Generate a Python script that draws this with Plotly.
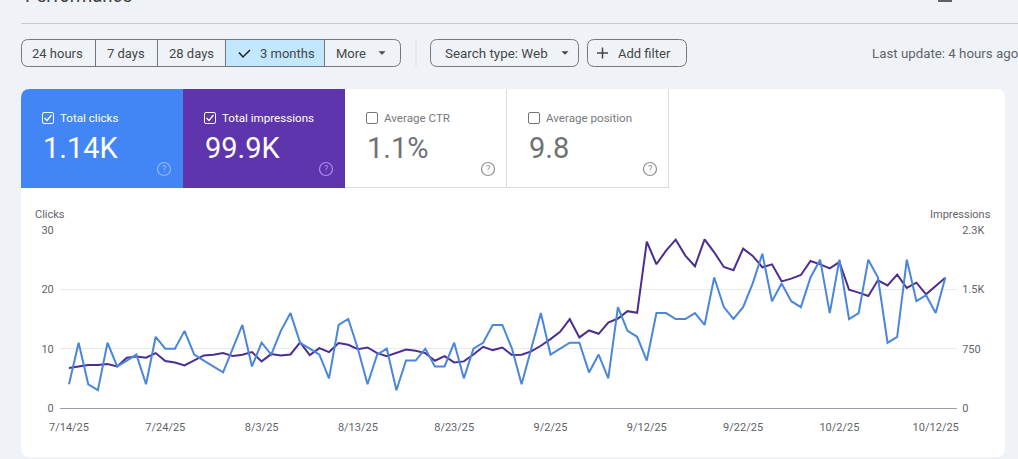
import pandas as pd
import plotly.graph_objects as go

W = 1018
H = 459

# daily values, 7/14/25 onwards
clicks = [4, 11, 4, 3, 11, 7, 8, 9, 4, 12, 10, 10, 13, 9, 8, 7, 6, 10, 14, 7, 11, 9, 13, 16,
          11, 10, 9, 5, 14, 15, 10, 4, 9, 10, 3, 8, 8, 10, 7, 7, 11, 5, 10, 11, 14, 14, 10, 4,
          10, 16, 9, 10, 11, 11, 6, 9, 5, 17, 13, 12, 8, 16, 16, 15, 15, 16, 14, 22, 17, 15, 17, 21,
          26, 18, 21, 18, 17, 22, 25, 16, 25, 15, 16, 25, 22, 11, 12, 25, 18, 19, 16, 22]
impressions = [505, 526, 543, 543, 555, 526, 635, 652, 635, 694, 593, 576, 538, 601, 665, 673, 694, 656, 673, 707,
               589, 681, 665, 677, 829, 669, 757, 707, 820, 799, 744, 765, 694, 656, 702, 740, 723, 694, 597, 656,
               576, 589, 677, 774, 732, 765, 669, 673, 715, 787, 871, 963, 1123, 892, 980, 938, 1081, 1131, 1224, 1203,
               2103, 1817, 1989, 2128, 1926, 1792, 2132, 1968, 1783, 1741, 2015, 1922, 1779, 1816, 1601, 1635, 1681, 1858,
               1816, 1765, 1845, 1496, 1458, 1416, 1614, 1550, 1685, 1517, 1584, 1437, 1542, 1647]
dates = pd.date_range("2025-07-14", periods=len(clicks), freq="D")

x_tick_dates = pd.date_range("2025-07-14", "2025-10-12", freq="10D")
x_tick_labels = ["7/14/25", "7/24/25", "8/3/25", "8/13/25", "8/23/25", "9/2/25", "9/12/25", "9/22/25", "10/2/25", "10/12/25"]
clicks_ticks = [0, 10, 20, 30]
impr_ticks = [0, 750, 1500, 2250]
impr_tick_labels = ["0", "750", "1.5K", "2.3K"]

range_buttons = [("24 hours", 21, 95), ("7 days", 95, 157), ("28 days", 157, 225), ("3 months", 225, 324), ("More", 324, 400)]

BG = "#eff3f8"
GREY = "#5f6368"
DARK = "#444746"
FONT = "Roboto"


def px(x):
    return x / W


def py(y):
    return 1 - y / H


def rrect(x0, y0, x1, y1, r=(0, 0, 0, 0), fill=None, line=None, lw=1):
    # r = top left, top right, bottom right, bottom left
    tl, tr, br, bl = r
    p = f"M{px(x0 + tl)},{py(y0)} L{px(x1 - tr)},{py(y0)} "
    p += f"Q{px(x1)},{py(y0)} {px(x1)},{py(y0 + tr)} L{px(x1)},{py(y1 - br)} "
    p += f"Q{px(x1)},{py(y1)} {px(x1 - br)},{py(y1)} L{px(x0 + bl)},{py(y1)} "
    p += f"Q{px(x0)},{py(y1)} {px(x0)},{py(y1 - bl)} L{px(x0)},{py(y0 + tl)} "
    p += f"Q{px(x0)},{py(y0)} {px(x0 + tl)},{py(y0)} Z"
    return dict(type="path", path=p, xref="paper", yref="paper", layer="below",
                fillcolor=fill or "rgba(0,0,0,0)", line=dict(color=line or "rgba(0,0,0,0)", width=lw if line else 0))


def seg(x0, y0, x1, y1, color, lw=1, layer="below"):
    return dict(type="line", xref="paper", yref="paper", layer=layer,
                x0=px(x0), y0=py(y0), x1=px(x1), y1=py(y1), line=dict(color=color, width=lw))


def poly(points, color, lw=1.5, fill=None):
    p = "M" + " L".join(f"{px(a)},{py(b)}" for a, b in points)
    if fill:
        p += " Z"
    return dict(type="path", path=p, xref="paper", yref="paper", layer="above",
                fillcolor=fill or "rgba(0,0,0,0)", line=dict(color=color, width=lw))


def circle(cx, cy, r, color):
    return dict(type="circle", xref="paper", yref="paper", layer="above",
                x0=px(cx - r), x1=px(cx + r), y0=py(cy - r), y1=py(cy + r),
                line=dict(color=color, width=1.2))


def label(x, y, text, size, color, anchor="left"):
    # left aligned text lands a pixel to the right of x
    if anchor == "left":
        x = x - 1
    return dict(x=px(x), y=py(y), xref="paper", yref="paper", text=text, showarrow=False,
                xanchor=anchor, yanchor="middle", xshift=0, yshift=0, borderpad=0,
                font=dict(family=FONT, size=size, color=color))


shapes = []
notes = []

# header, cut by the top of the screenshot
notes.append(label(25, -4, "Performance", 18.5, "#3c4043"))
shapes.append(rrect(938, -4, 952, 2, fill="#5f6368"))
shapes.append(seg(21, 23.5, W, 23.5, "#c7cacf"))

# date range buttons
shapes.append(rrect(225.5, 39.5, 324.5, 66.5, fill="#c2e7ff"))
shapes.append(rrect(21.5, 39.5, 400.5, 66.5, r=(7, 7, 7, 7), line="#747775"))
for name, a, b in range_buttons[:-1]:
    shapes.append(seg(b + 0.5, 39.5, b + 0.5, 66.5, "#747775"))
notes.append(label(32, 53, "24 hours", 13, DARK))
notes.append(label(107, 53, "7 days", 13, DARK))
notes.append(label(169, 53, "28 days", 13, DARK))
notes.append(label(260, 53, "3 months", 13, DARK))
notes.append(label(336, 53, "More", 13, DARK))
shapes.append(poly([(239, 52.5), (243, 57), (250, 50)], "#1f1f1f", 1.5))
shapes.append(poly([(379, 51.5), (385, 51.5), (382, 54.5)], DARK, 0.5, fill=DARK))

# filters
shapes.append(seg(416, 39, 416, 67, "#dde0e4"))
shapes.append(rrect(430.5, 39.5, 578.5, 66.5, r=(7, 7, 7, 7), line="#747775"))
notes.append(label(445, 53, "Search type: Web", 13.4, DARK))
shapes.append(poly([(562, 51.5), (568, 51.5), (565, 54.5)], DARK, 0.5, fill=DARK))
shapes.append(rrect(587.5, 39.5, 686.5, 66.5, r=(7, 7, 7, 7), line="#747775"))
notes.append(label(618, 53, "Add filter", 13, DARK))
shapes.append(seg(597, 53, 608, 53, DARK, 1.5))
shapes.append(seg(602.5, 47.5, 602.5, 58.5, DARK, 1.5))
notes.append(label(872, 53, "Last update: 4 hours ago", 13.3, GREY))

# white card and metric tiles
shapes.append(rrect(21, 89, 1005, 457, r=(9, 9, 9, 9), fill="white"))
shapes.append(rrect(21, 89, 183, 188, r=(9, 0, 0, 0), fill="#4285f4"))
shapes.append(rrect(183, 89, 345, 188, fill="#5e35ad"))
shapes.append(seg(345, 187.5, 668.5, 187.5, "#dadce0"))
shapes.append(seg(506.5, 89, 506.5, 188, "#dadce0"))
shapes.append(seg(668.5, 89, 668.5, 188, "#dadce0"))

tiles = [
    (42, "Total clicks", "1.14K", "white", "#8fbaf9", True),
    (204, "Total impressions", "99.9K", "white", "#b388f5", True),
    (366, "Average CTR", "1.1%", "#6e7175", "#8d9093", False),
    (528, "Average position", "9.8", "#6e7175", "#8d9093", False),
]
for x, name, value, color, help_color, checked in tiles:
    shapes.append(rrect(x + 0.5, 112.5, x + 11.5, 123.5, r=(1.5, 1.5, 1.5, 1.5), line=color if checked else "#747775"))
    if checked:
        shapes.append(poly([(x + 2.5, 118), (x + 5, 120.5), (x + 9.5, 115)], "white", 1.3))
    notes.append(label(x + 18, 118, name, 11.6, color if checked else "#777a7e"))
    notes.append(label(x + 1, 148, value, 29, color))
    shapes.append(circle(x + 122, 169, 6.5, help_color))
    notes.append(label(x + 122, 169, "?", 9, help_color, "center"))

# axis titles
notes.append(label(35, 215, "Clicks", 11, GREY))
notes.append(label(992, 215, "Impressions", 11, GREY, "right"))

# x range from the pixel position of the first point and the day width
day_px = 9.63
x_start = dates[0] + pd.Timedelta(days=(60 - 69) / day_px)
x_end = dates[0] + pd.Timedelta(days=(957 - 69) / day_px)

fig = go.Figure()
fig.add_trace(go.Scatter(x=dates, y=impressions, mode="lines", name="Impressions",
                         line=dict(color="#4c2e90", width=2), yaxis="y"))
fig.add_trace(go.Scatter(x=dates, y=clicks, mode="lines", name="Clicks",
                         line=dict(color="#4a86da", width=2), yaxis="y2"))

fig.update_layout(
    width=W, height=H,
    margin=dict(l=0, r=0, t=0, b=0, autoexpand=False),
    paper_bgcolor=BG,
    plot_bgcolor="rgba(0,0,0,0)",
    showlegend=False,
    font=dict(family=FONT, size=11, color=GREY),
    shapes=shapes,
    annotations=notes,
    xaxis=dict(type="date", domain=[px(60), px(957)], range=[x_start, x_end], anchor="y",
               tickvals=x_tick_dates, ticktext=x_tick_labels, tickangle=0,
               showgrid=False, showline=True, linecolor="#9aa0a6", linewidth=1, zeroline=False,
               ticks="outside", ticklen=9, tickcolor="rgba(0,0,0,0)", tickfont=dict(size=11, color=GREY)),
    # right axis is the base one so that clicks are drawn on top of impressions
    yaxis=dict(domain=[py(408), py(230)], range=[0, 2250], side="right", anchor="x",
               tickvals=impr_ticks, ticktext=impr_tick_labels,
               showgrid=True, gridcolor="#e8eaed", gridwidth=1, zeroline=False,
               ticks="outside", ticklen=2, tickcolor="rgba(0,0,0,0)", tickfont=dict(size=11, color=GREY)),
    yaxis2=dict(domain=[py(408), py(230)], range=[0, 30], side="left", overlaying="y", anchor="x",
                tickvals=clicks_ticks, showgrid=False, zeroline=False,
                ticks="outside", ticklen=3, tickcolor="rgba(0,0,0,0)", tickfont=dict(size=11, color=GREY)),
)

fig.write_html("out.html", config=dict(displayModeBar=False),
               post_script="document.body.style.margin='0';document.body.style.overflow='hidden';")
